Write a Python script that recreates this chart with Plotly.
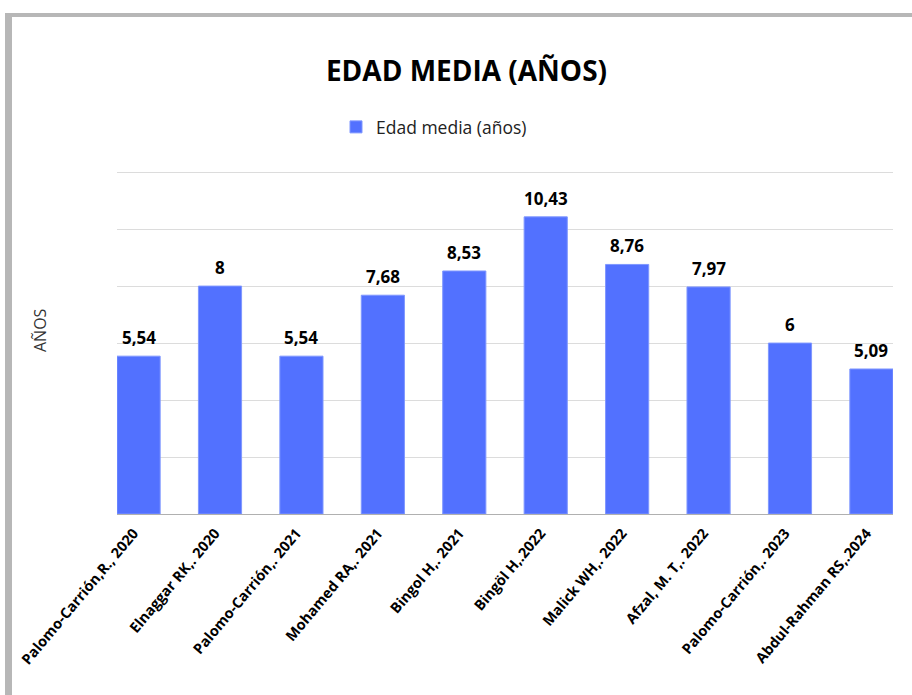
import plotly.graph_objects as go

categories = [
    "Palomo-Carrión,R., 2020",
    "Elnaggar RK,. 2020",
    "Palomo-Carrión,. 2021",
    "Mohamed RA,. 2021",
    "Bingol H,. 2021",
    "Bingöl H,.2022",
    "Malick WH,. 2022",
    "Afzal, M. T,. 2022",
    "Palomo-Carrión,. 2023",
    "Abdul-Rahman RS,.2024",
]
values = [5.54, 8, 5.54, 7.68, 8.53, 10.43, 8.76, 7.97, 6, 5.09]
series_name = "Edad media (años)"
title_text = "EDAD MEDIA (AÑOS)"
y_title = "AÑOS"

labels = [f"{v:g}".replace(".", ",") for v in values]

W, H = 912, 695
L, R, T, B = 117, 893, 171, 514  # plot area in px


def px_x(p):
    return (p - L) / (R - L)


def px_y(p):
    return (B - p) / (B - T)


BAR_W = 0.53

fig = go.Figure()
fig.add_trace(go.Bar(
    x=categories,
    y=values,
    name=series_name,
    width=BAR_W,
    marker=dict(color="#5271ff", line=dict(color="#7f97ff", width=1)),
    showlegend=True,
))

value_annotations = [
    dict(
        x=c, y=v, xref="x", yref="y", text=f"<b>{t}</b>",
        showarrow=False, xanchor="center", yanchor="bottom", yshift=5,
        font=dict(family="Open Sans", size=17, color="#000000"),
    )
    for c, v, t in zip(categories, values, labels)
]

fig.update_layout(
    width=W,
    height=H,
    margin=dict(l=L, r=W - R, t=T, b=H - B, autoexpand=False),
    paper_bgcolor="white",
    plot_bgcolor="white",
    font=dict(family="Open Sans", color="#222222"),
    title=dict(
        text=f"<b>{title_text}</b>",
        font=dict(family="Open Sans", size=28, color="#000000"),
        xref="container", yref="container",
        x=466.5 / W, y=1 - 71 / H, xanchor="center", yanchor="middle",
    ),
    showlegend=True,
    legend=dict(
        orientation="h",
        x=px_x(336), y=px_y(127), xanchor="left", yanchor="middle",
        font=dict(family="Open Sans", size=17.5, color="#222222"),
        itemwidth=30,
        bgcolor="rgba(0,0,0,0)",
    ),
    xaxis=dict(
        type="category",
        range=[-BAR_W / 2, len(categories) - 1 + BAR_W / 2],
        tickangle=-50,
        tickfont=dict(family="Open Sans", size=14.5, color="#000000", weight="bold"),
        ticklabelstandoff=4,
        ticklabelshift=-5,
        showline=True, linecolor="#b0b0b0", linewidth=1,
        showgrid=False, ticks="", ticklen=0,
    ),
    yaxis=dict(
        range=[0, 12.04], tick0=0, dtick=2,
        showticklabels=False,
        showgrid=True, gridcolor="#dcdcdc", gridwidth=1,
        zeroline=False, showline=False, ticks="",
    ),
    annotations=value_annotations + [
        dict(
            text=y_title, textangle=-90,
            x=px_x(40), y=px_y(330), xref="paper", yref="paper",
            showarrow=False, xanchor="center", yanchor="middle",
            font=dict(family="Open Sans", size=16, color="#333333"),
        )
    ],
    shapes=[
        dict(type="rect", xref="paper", yref="paper",
             x0=px_x(5), x1=px_x(12), y0=px_y(700), y1=px_y(13),
             fillcolor="#b7b7b7", line=dict(width=0), layer="above"),
        dict(type="rect", xref="paper", yref="paper",
             x0=px_x(5), x1=px_x(915), y0=px_y(17), y1=px_y(13),
             fillcolor="#b7b7b7", line=dict(width=0), layer="above"),
    ],
)

fig.write_html("out.html")
